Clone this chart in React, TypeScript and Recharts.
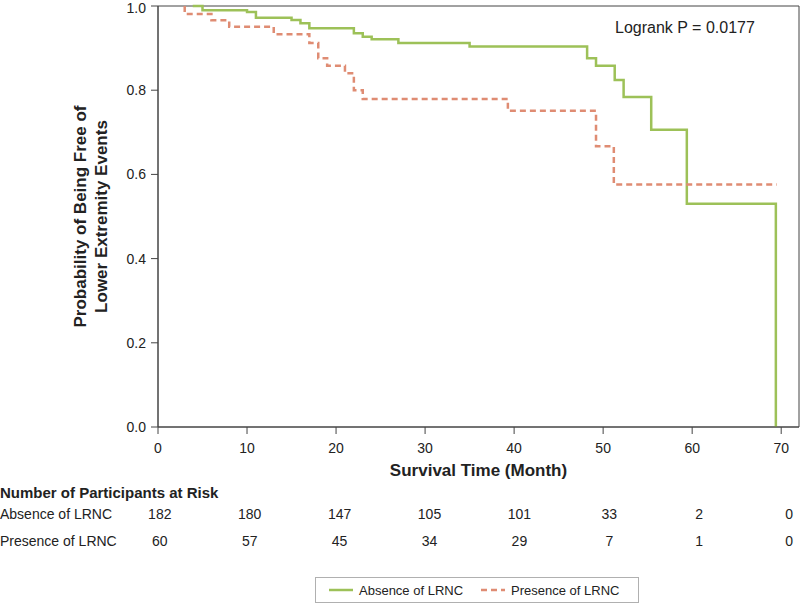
import { LineChart, Line, XAxis, YAxis, Legend, ReferenceArea } from "recharts";

const monthTicks = [0, 10, 20, 30, 40, 50, 60, 70];
const probTicks = [0, 0.2, 0.4, 0.6, 0.8, 1.0];

// Kaplan-Meier step points
const absenceTime = [3.9, 5, 10, 11, 15, 16, 17, 22, 23, 24, 27, 35, 48.2, 49.2, 51.3, 52.3, 55.4, 59.4, 69.4];
const absenceSurv = [1, 0.99, 0.986, 0.972, 0.967, 0.959, 0.947, 0.935, 0.927, 0.921, 0.912, 0.904, 0.876, 0.858, 0.824, 0.784, 0.706, 0.53, 0];

const presenceTime = [3, 3, 6, 8, 13, 17, 18, 19, 21, 22, 23, 39.3, 49.2, 51.2, 69.5];
const presenceSurv = [1, 0.981, 0.966, 0.951, 0.933, 0.912, 0.876, 0.858, 0.84, 0.8, 0.779, 0.751, 0.667, 0.576, 0.576];

const absenceAtRisk = [182, 180, 147, 105, 101, 33, 2, 0];
const presenceAtRisk = [60, 57, 45, 34, 29, 7, 1, 0];

const absenceData = absenceTime.map((t, i) => ({ t, s: absenceSurv[i] }));
const presenceData = presenceTime.map((t, i) => ({ t, s: presenceSurv[i] }));

const font = "'Liberation Sans', Arial, Helvetica, sans-serif";
const axisColor = "#444";
const textColor = "#222";
const green = "#9dc158";
const salmon = "#df8c73";

function YLabel({ viewBox }: any) {
  const cx = viewBox.x + 90;
  const cy = viewBox.y + viewBox.height / 2;
  return (
    <text transform={`rotate(-90 ${cx} ${cy})`} x={cx} y={cy} textAnchor="middle" fontFamily={font} fontSize={17} fontWeight="bold" fill={textColor}>
      <tspan x={cx} dy={-4.5}>Probability of Being Free of</tspan>
      <tspan x={cx} dy={21}>Lower Extremity Events</tspan>
    </text>
  );
}

function XLabel({ viewBox }: any) {
  return (
    <text x={viewBox.x + viewBox.width / 2} y={viewBox.y + 43} dominantBaseline="central" textAnchor="middle" fontFamily={font} fontSize={17} fontWeight="bold" fill={textColor}>
      Survival Time (Month)
    </text>
  );
}

function LegendBox({ payload }: any) {
  const items = (payload || []).filter((e: any) => e.type !== "none" && e.value && e.value !== "s");
  return (
    <div style={{ display: "flex", alignItems: "center", height: 26, width: 324, border: "1px solid #b0b0b0", boxSizing: "border-box", paddingLeft: 13, fontFamily: font, fontSize: 13, color: textColor, whiteSpace: "nowrap" }}>
      {items.map((e: any) => (
        <div key={e.value} style={{ display: "flex", alignItems: "center", marginRight: 18, flexShrink: 0 }}>
          <svg width={24} height={4} style={{ marginRight: 6 }}>
            <line x1={0} y1={2} x2={24} y2={2} stroke={e.color} strokeWidth={2.5} strokeDasharray={e.payload?.strokeDasharray} />
          </svg>
          {e.value}
        </div>
      ))}
    </div>
  );
}

const rowText = (top: number, size: number, bold: boolean) => ({
  position: "absolute" as const,
  left: 0,
  top,
  lineHeight: "18px",
  fontFamily: font,
  fontSize: size,
  fontWeight: bold ? "bold" : "normal",
  color: textColor,
  whiteSpace: "nowrap" as const,
});

// the at-risk columns in the figure are spaced a little wider than the axis ticks
const riskDomain = [-0.2, 71.1];

export default function App() {
  return (
    <div style={{ position: "fixed", left: 0, top: 0, width: 800, height: 604, background: "#fff" }}>
      <LineChart width={800} height={604} margin={{ top: 6, right: 1, left: 0, bottom: 43 }}>
        <XAxis
          xAxisId="main"
          type="number"
          dataKey="t"
          domain={[0, 72]}
          ticks={monthTicks}
          tickSize={7}
          tickMargin={9}
          height={52}
          stroke={axisColor}
          tick={{ fontFamily: font, fontSize: 14, fill: textColor }}
          label={<XLabel />}
        />
        <XAxis
          xAxisId="risk1"
          type="number"
          dataKey="t"
          domain={riskDomain}
          allowDataOverflow
          ticks={monthTicks}
          tickSize={0}
          tickMargin={30}
          height={42}
          axisLine={false}
          tickLine={false}
          tickFormatter={(v: number) => String(absenceAtRisk[monthTicks.indexOf(v)])}
          tick={{ fontFamily: font, fontSize: 14, fill: textColor }}
        />
        <XAxis
          xAxisId="risk2"
          type="number"
          dataKey="t"
          domain={riskDomain}
          allowDataOverflow
          ticks={monthTicks}
          tickSize={0}
          tickMargin={15}
          height={40}
          axisLine={false}
          tickLine={false}
          tickFormatter={(v: number) => String(presenceAtRisk[monthTicks.indexOf(v)])}
          tick={{ fontFamily: font, fontSize: 14, fill: textColor }}
        />
        <YAxis
          yAxisId="main"
          type="number"
          domain={[0, 1]}
          ticks={probTicks}
          width={158}
          tickSize={7}
          tickMargin={5}
          stroke={axisColor}
          tickFormatter={(v: number) => v.toFixed(1)}
          tick={{ fontFamily: font, fontSize: 14, fill: textColor }}
          label={<YLabel />}
        />
        {/* plot frame */}
        <ReferenceArea xAxisId="main" yAxisId="main" x1={0} x2={72} y1={0} y2={1} fill="none" stroke={axisColor} strokeWidth={1} />
        {/* invisible carriers so the risk-table axes get drawn */}
        <Line xAxisId="risk1" yAxisId="main" data={absenceData} dataKey="s" name="s" stroke="none" dot={false} activeDot={false} legendType="none" isAnimationActive={false} />
        <Line xAxisId="risk2" yAxisId="main" data={presenceData} dataKey="s" name="s" stroke="none" dot={false} activeDot={false} legendType="none" isAnimationActive={false} />
        <Line
          xAxisId="main"
          yAxisId="main"
          data={absenceData}
          dataKey="s"
          name="Absence of LRNC"
          type="stepAfter"
          stroke={green}
          strokeWidth={2.5}
          dot={false}
          activeDot={false}
          isAnimationActive={false}
        />
        <Line
          xAxisId="main"
          yAxisId="main"
          data={presenceData}
          dataKey="s"
          name="Presence of LRNC"
          type="stepAfter"
          stroke={salmon}
          strokeWidth={2.5}
          strokeDasharray="6 4"
          dot={false}
          activeDot={false}
          isAnimationActive={false}
        />
        <Legend
          layout="vertical"
          align="center"
          verticalAlign="middle"
          content={<LegendBox />}
          wrapperStyle={{ left: 315, top: 577, width: 324, height: 26 }}
        />
      </LineChart>
      <div style={{ position: "absolute", left: 615, top: 19, fontFamily: font, fontSize: 16, color: textColor }}>
        Logrank P = 0.0177
      </div>
      <div style={rowText(484, 15, true)}>Number of Participants at Risk</div>
      <div style={rowText(505, 14, false)}>Absence of LRNC</div>
      <div style={rowText(532, 14, false)}>Presence of LRNC</div>
    </div>
  );
}
